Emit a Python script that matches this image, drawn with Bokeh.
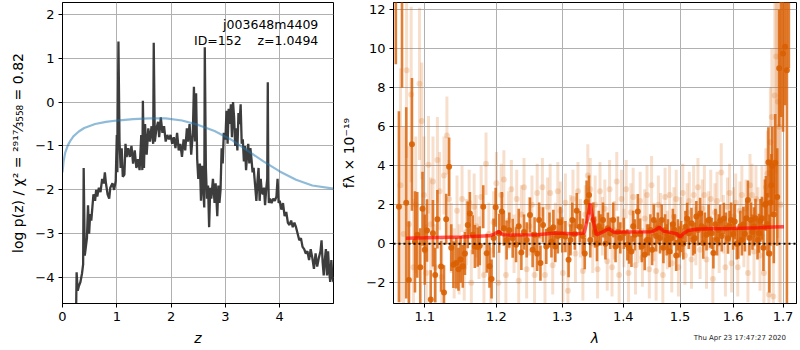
import numpy as np
from bokeh.plotting import figure
from bokeh.layouts import row, column
from bokeh.models import Range1d, FixedTicker, CustomJSTickFormatter, Label, Div
from bokeh.embed import file_html
from bokeh.resources import INLINE

FONT = "DejaVu Sans"

# ---------------- left panel: p(z) ----------------
pz_z = [0.25, 0.26, 0.28, 0.30, 0.33, 0.36, 0.38, 0.39, 0.41, 0.43, 0.45, 0.47, 0.49, 0.51, 0.53, 0.55,
        0.57, 0.60, 0.62, 0.64, 0.67, 0.70, 0.73, 0.76, 0.78, 0.80, 0.83, 0.86, 0.88, 0.92, 0.95, 0.98,
        1.00, 1.01, 1.03, 1.05, 1.07, 1.09, 1.11, 1.14, 1.16, 1.18, 1.21, 1.24, 1.27, 1.30, 1.33, 1.36,
        1.39, 1.42, 1.45, 1.47, 1.48, 1.50, 1.52, 1.55, 1.58, 1.61, 1.64, 1.67, 1.68, 1.70, 1.73, 1.76,
        1.78, 1.81, 1.84, 1.87, 1.90, 1.93, 1.96, 1.99, 2.02, 2.05, 2.08, 2.11, 2.14, 2.17, 2.20, 2.23,
        2.26, 2.29, 2.31, 2.34, 2.37, 2.40, 2.42, 2.44, 2.46, 2.48, 2.50, 2.53, 2.55, 2.57, 2.59, 2.61,
        2.62, 2.64, 2.66, 2.68, 2.70, 2.72, 2.74, 2.77, 2.80, 2.82, 2.85, 2.87, 2.89, 2.91, 2.93, 2.95,
        2.97, 3.00, 3.02, 3.04, 3.06, 3.08, 3.10, 3.12, 3.14, 3.16, 3.18, 3.20, 3.22, 3.24, 3.26, 3.28,
        3.30, 3.32, 3.34, 3.36, 3.38, 3.40, 3.42, 3.44, 3.46, 3.48, 3.50, 3.52, 3.55, 3.57, 3.59, 3.61,
        3.63, 3.65, 3.67, 3.69, 3.71, 3.73, 3.75, 3.77, 3.78, 3.79, 3.80, 3.82, 3.85, 3.88, 3.91, 3.94,
        3.96, 3.98, 4.00, 4.03, 4.06, 4.09, 4.12, 4.15, 4.18, 4.21, 4.24, 4.27, 4.30, 4.33, 4.36, 4.39,
        4.42, 4.45, 4.48, 4.51, 4.54, 4.57, 4.60, 4.63, 4.66, 4.69, 4.72, 4.75, 4.77, 4.79, 4.81, 4.83,
        4.85, 4.87, 4.89, 4.91, 4.93, 4.95, 4.97, 4.99]
pz_logp = [-4.8, -3.88, -4.3, -4.2, -4.1, -3.9, -3.7, -1.5, -3.5, -3.3, -3.1, -2.35, -3.0, -2.55, -2.7, -2.4,
           -2.1, -2.25, -2.0, -2.15, -1.95, -2.05, -1.75, -1.85, -1.6, -1.85, -2.1, -2.2, -1.95, -1.85, -2.0, -1.8,
           -0.75, -1.6, 1.38, -0.9, -1.5, -1.05, -1.7, -1.65, -0.95, -1.25, -1.05, -1.25, -1.0, -1.4, -1.1, -1.5,
           -1.3, -1.55, -0.75, -1.55, 0.03, -1.5, -0.5, -1.2, -0.6, -0.9, -0.55, -0.95, 1.35, -0.9, -0.6, -0.45,
           -0.8, -0.35, -0.7, -0.55, -0.9, -0.75, -0.85, -0.75, -0.95, -0.8, -1.05, -0.7, -1.1, -0.95, -1.25, -0.85,
           -1.1, -0.6, -0.9, -0.5, -1.2, -0.7, 0.35, -0.9, 0.2, -1.3, -1.75, -1.4, -2.25, -1.45, -1.95, -2.4,
           1.25, -1.5, -2.2, -1.9, -2.85, -1.95, -2.2, -1.75, -2.3, -1.85, -2.6, -1.9, -2.3, -2.0, -1.05, -1.4,
           -0.7, -0.85, -0.2, -0.95, -0.15, -0.5, -0.05, -0.8, 0.0, -0.35, -1.0, -0.6, -1.1, -0.25, -0.5, -0.05,
           -0.95, -0.85, -1.35, -1.0, -1.55, -1.2, -0.95, -1.4, -1.05, -1.3, -1.6, -1.5, -1.95, -2.25, -1.8, -1.5,
           -2.25, -1.75, -2.05, -2.1, -1.95, -2.35, -2.0, -1.75, 0.45, -1.8, -2.3, -2.2, -2.3, -2.2, -2.25, -2.15,
           -1.75, -2.3, -2.25, -2.45, -2.3, -2.6, -2.5, -2.75, -2.8, -2.7, -2.85, -2.75, -2.85, -3.0, -3.15, -3.1,
           -3.3, -3.35, -3.45, -3.4, -3.6, -3.35, -3.55, -3.8, -3.45, -3.75, -3.55, -3.4, -3.15, -3.65, -3.95, -3.6,
           -3.35, -3.95, -3.4, -3.85, -4.1, -3.6, -4.0, -4.1]

prior_z = [0.0, 0.02, 0.05, 0.1, 0.15, 0.2, 0.3, 0.4, 0.6, 0.8, 1.0, 1.3, 1.6, 1.9, 2.2, 2.5, 2.8,
           3.1, 3.4, 3.7, 4.0, 4.3, 4.6, 4.99]
prior_logp = [-1.6, -1.35, -1.15, -0.98, -0.87, -0.78, -0.67, -0.59, -0.5, -0.45, -0.42, -0.39, -0.37,
              -0.37, -0.42, -0.52, -0.66, -0.85, -1.1, -1.35, -1.58, -1.77, -1.9, -1.97]

z_ticks = [0, 1, 2, 3, 4]
logp_ticks = [-4, -3, -2, -1, 0, 1, 2]

# ---------------- right panel: spectrum ----------------
dark_lam = [1.062, 1.066, 1.070, 1.0755, 1.079, 1.083, 1.087, 1.090, 1.094, 1.097, 1.100, 1.103, 1.108, 1.111,
            1.114, 1.117, 1.122, 1.126, 1.129, 1.133, 1.136, 1.139, 1.143, 1.146, 1.149, 1.152, 1.155, 1.159,
            1.162, 1.166, 1.169, 1.173, 1.176, 1.181, 1.186, 1.190, 1.193, 1.196, 1.199, 1.204, 1.208, 1.211,
            1.215, 1.219, 1.224, 1.229, 1.233, 1.237, 1.241, 1.245, 1.250, 1.254, 1.257, 1.261, 1.264, 1.266,
            1.270, 1.275, 1.280, 1.283, 1.286, 1.289, 1.293, 1.297, 1.300, 1.305, 1.310, 1.313, 1.316, 1.320,
            1.323, 1.328, 1.333, 1.336, 1.339, 1.343, 1.345, 1.350, 1.353, 1.356, 1.359, 1.362, 1.366, 1.370,
            1.374, 1.378, 1.383, 1.387, 1.391, 1.395, 1.401, 1.407, 1.410, 1.414, 1.417, 1.420, 1.425, 1.429,
            1.432, 1.437, 1.441, 1.444, 1.447, 1.450, 1.453, 1.457, 1.460, 1.464, 1.467, 1.470, 1.473, 1.476,
            1.478, 1.481, 1.484, 1.487, 1.490, 1.493, 1.496, 1.499, 1.502, 1.506, 1.510, 1.513, 1.516, 1.521,
            1.524, 1.527, 1.530, 1.533, 1.537, 1.540, 1.543, 1.546, 1.549, 1.553, 1.556, 1.559, 1.562, 1.566,
            1.569, 1.572, 1.575, 1.578, 1.582, 1.586, 1.590, 1.593, 1.596, 1.600, 1.603, 1.607, 1.610, 1.614,
            1.617, 1.620, 1.623, 1.626, 1.629, 1.632, 1.635, 1.638, 1.641, 1.644, 1.648, 1.651, 1.654, 1.657,
            1.660, 1.663, 1.665, 1.668, 1.670, 1.672, 1.674, 1.676, 1.678, 1.681, 1.684, 1.688, 1.692, 1.696,
            1.700, 1.704, 1.708, 1.712]
dark_flux = [17.0, 1.9, 15.0, 2.1, -1.85, 5.1, 0.1, 0.46, -1.2, 1.8, -0.3, 0.68, -2.86, 0.54,
             -1.6, 1.26, -1.16, -2.5, 1.26, 3.95, -0.2, -1.07, -0.99, -1.3, -0.8, -1.15, -0.5, 0.97,
             1.56, 0.46, -0.14, -0.17, -0.1, 1.9, -0.48, -1.15, -1.8, 0.3, 1.87, 0.54, 1.65, 0.8,
             0.2, 0.7, 0.29, -0.05, 0.9, -0.44, 0.6, 0.2, 1.48, -0.3, 0.46, -0.5, 1.22, -0.99,
             0.97, -0.14, 0.71, 0.1, 0.85, -0.14, 0.4, 1.1, 0.46, 0.37, -0.82, 0.2, 1.22, 0.5,
             1.70, 0.88, 0.4, -0.5, 2.14, 2.5, 0.2, 1.22, 0.6, 0.0, 0.9, 0.71, 1.22, 0.0,
             0.8, 0.54, 1.22, -0.14, 0.6, 0.3, 0.54, -0.05, -0.22, -0.39, 0.9, 0.46, 1.65, 0.5,
             -0.14, -0.56, 0.2, 0.2, 0.71, -0.3, 1.22, 0.4, 0.8, 0.3, 1.22, -0.2, 0.71, 0.2,
             0.46, -0.4, 0.29, 1.0, 0.71, -0.6, 0.46, 0.1, 0.37, 0.0, 0.88, 1.3, 0.54, 1.05,
             0.2, 0.29, 1.4, 0.71, 1.56, 0.9, 0.03, 0.8, 0.46, 1.22, 0.6, 0.54, -0.47, 1.0,
             0.2, 0.71, 1.2, 0.4, 1.3, 0.8, 0.29, 0.9, 1.22, 0.5, 1.14, 0.0, 0.03, 0.9,
             0.2, 1.0, 0.5, 1.31, 2.25, 0.3, 1.22, 0.6, 0.88, 1.31, 0.2, 0.54, 1.2, 1.31,
             -0.2, 2.0, 2.07, 1.0, 4.18, -0.5, 2.1, 3.0, 4.0, 1.5, 4.15, 2.4, 9.0, 12.5,
             9.75, 10.1, 8.9, 15.0]
dark_err = [7.8, 4.9, 7.0, 4.9, 3.0, 3.4, 2.6, 2.2, 2.0, 1.9, 1.8, 1.6, 1.5, 1.7,
            1.4, 1.5, 1.3, 1.4, 1.3, 1.5, 1.2, 1.2, 1.3, 1.1, 1.2, 1.1, 1.1, 1.2,
            1.1, 1.0, 1.1, 1.0, 1.0, 1.1, 1.0, 1.1, 1.0, 1.0, 1.0, 1.0, 1.0, 0.9,
            1.0, 0.9, 1.0, 0.9, 0.9, 0.9, 0.9, 0.9, 0.9, 0.9, 0.9, 0.9, 0.9, 0.9,
            0.9, 0.9, 0.9, 0.8, 0.9, 0.8, 0.9, 0.8, 0.9, 0.8, 0.9, 0.8, 0.9, 0.8,
            0.9, 0.8, 0.9, 0.8, 1.1, 1.0, 0.9, 0.9, 0.8, 0.9, 0.8, 0.8, 0.9, 0.8,
            0.8, 0.8, 0.9, 0.8, 0.8, 0.8, 0.8, 0.8, 0.8, 0.8, 0.8, 0.8, 0.9, 0.8,
            0.8, 0.8, 0.8, 0.8, 0.8, 0.8, 0.8, 0.8, 0.8, 0.8, 0.8, 0.8, 0.8, 0.8,
            0.8, 0.8, 0.8, 0.8, 0.8, 0.8, 0.8, 0.8, 0.8, 0.8, 0.8, 0.8, 0.8, 0.8,
            0.8, 0.8, 0.8, 0.8, 0.8, 0.8, 0.8, 0.8, 0.8, 0.8, 0.8, 0.8, 0.8, 0.8,
            0.8, 0.8, 0.8, 0.8, 0.8, 0.8, 0.8, 0.8, 0.9, 0.8, 0.9, 0.8, 0.8, 0.8,
            0.8, 0.9, 0.9, 0.9, 1.0, 0.9, 0.9, 0.9, 1.0, 1.0, 1.0, 1.0, 1.1, 1.1,
            1.2, 1.3, 1.4, 1.6, 1.8, 2.0, 2.2, 1.6, 2.0, 2.5, 2.5, 2.5, 3.0, 6.0,
            4.0, 3.0, 14.0, 6.0]

light_lam = [1.068, 1.072, 1.076, 1.079, 1.082, 1.085, 1.088, 1.093, 1.096, 1.099, 1.102, 1.105, 1.108, 1.111,
             1.114, 1.117, 1.120, 1.123, 1.126, 1.130, 1.133, 1.136, 1.140, 1.144, 1.147, 1.151, 1.154, 1.157,
             1.161, 1.164, 1.168, 1.171, 1.175, 1.178, 1.182, 1.185, 1.189, 1.192, 1.196, 1.200, 1.203, 1.207,
             1.211, 1.214, 1.218, 1.222, 1.226, 1.230, 1.233, 1.237, 1.241, 1.245, 1.249, 1.253, 1.257, 1.261,
             1.265, 1.269, 1.273, 1.277, 1.281, 1.285, 1.289, 1.293, 1.297, 1.301, 1.305, 1.309, 1.313, 1.317,
             1.321, 1.325, 1.329, 1.333, 1.337, 1.341, 1.345, 1.349, 1.353, 1.357, 1.361, 1.365, 1.369, 1.373,
             1.377, 1.381, 1.385, 1.389, 1.393, 1.397, 1.401, 1.405, 1.409, 1.413, 1.417, 1.421, 1.425, 1.429,
             1.433, 1.437, 1.441, 1.445, 1.449, 1.453, 1.457, 1.461, 1.465, 1.469, 1.473, 1.477, 1.481, 1.485,
             1.489, 1.493, 1.497, 1.501, 1.505, 1.509, 1.513, 1.517, 1.521, 1.525, 1.529, 1.533, 1.537, 1.541,
             1.545, 1.549, 1.553, 1.557, 1.561, 1.565, 1.569, 1.573, 1.577, 1.581, 1.585, 1.589, 1.593, 1.597,
             1.601, 1.605, 1.609, 1.613, 1.617, 1.621, 1.625, 1.629, 1.633, 1.637, 1.641, 1.645, 1.649, 1.653,
             1.657, 1.661, 1.665, 1.668, 1.671, 1.674, 1.677, 1.680, 1.683, 1.686, 1.689, 1.692, 1.695]
light_flux = [3.0, 0.5, 8.9, 1.0, 7.65, -1.2, 2.0, 8.2, 6.3, 2.5, -1.5, 4.05, 1.0, 3.2,
              -1.2, 4.3, 2.7, -1.7, 3.5, 5.55, 2.3, 0.3, -1.0, 1.7, -0.8, 2.3, -1.2, 0.6,
              2.1, -2.0, 1.9, 0.9, -0.2, 2.4, -1.6, 4.1, 0.5, -1.8, 1.1, 3.1, -2.0, 2.5,
              3.3, -1.6, 1.2, 2.8, 0.0, 2.3, -1.9, 1.5, 2.9, -1.3, 0.9, 2.0, -1.6, 2.6,
              0.4, 2.9, -1.6, 1.9, 2.6, -1.1, 0.6, 2.7, 1.7, -1.5, 2.1, -2.4, 1.0, 2.3,
              -0.5, 2.7, 0.8, -1.4, 1.5, 3.5, 2.8, 0.0, 2.0, -1.3, 2.7, 0.9, 1.8, -0.9,
              2.8, -1.2, 0.7, 3.2, -1.6, 2.3, 0.3, 2.8, -1.5, 1.6, 2.4, -1.1, 0.5, 2.2,
              -0.7, 1.3, 2.5, -1.3, 3.0, 0.6, -1.4, 2.0, 1.1, -1.6, 2.4, 0.2, 2.5, -1.0,
              1.4, 2.3, -1.2, 0.9, 2.6, -0.6, 1.6, 2.2, -0.8, 2.5, 0.4, 2.9, -0.3, 1.8,
              2.5, -0.8, 1.2, 2.3, -1.8, 1.6, 2.2, 0.0, 3.65, 1.0, -1.2, 1.9, 2.6, -1.0,
              1.4, 2.1, -1.2, 1.7, 2.5, 0.3, 1.8, -1.5, 3.0, 2.5, -0.4, 2.3, 1.2, -0.6,
              2.2, -1.5, 2.9, 3.6, -2.6, 5.2, 6.5, -2.7, 7.6, 9.6, 7.3, 6.0, 2.0]
light_err = [6.0, 5.5, 4.5, 4.0, 4.5, 3.5, 3.5, 3.9, 3.0, 3.0, 2.5, 2.5, 2.4, 2.3,
             2.2, 2.2, 2.0, 2.0, 2.0, 2.0, 2.0, 1.8, 1.8, 1.8, 1.8, 1.7, 1.7, 1.7,
             1.7, 1.7, 1.7, 1.6, 1.6, 1.6, 1.6, 1.6, 1.6, 1.6, 1.6, 1.6, 1.6, 1.6,
             1.5, 1.5, 1.5, 1.5, 1.5, 1.5, 1.5, 1.5, 1.5, 1.5, 1.5, 1.5, 1.5, 1.5,
             1.5, 1.5, 1.5, 1.5, 1.5, 1.5, 1.5, 1.5, 1.5, 1.5, 1.5, 1.5, 1.5, 1.5,
             1.5, 1.5, 1.5, 1.5, 1.5, 1.6, 1.6, 1.5, 1.5, 1.5, 1.5, 1.5, 1.5, 1.5,
             1.5, 1.5, 1.5, 1.5, 1.5, 1.5, 1.5, 1.5, 1.5, 1.5, 1.5, 1.5, 1.5, 1.5,
             1.5, 1.5, 1.5, 1.5, 1.5, 1.5, 1.5, 1.5, 1.5, 1.5, 1.5, 1.5, 1.5, 1.5,
             1.5, 1.5, 1.5, 1.5, 1.5, 1.5, 1.5, 1.5, 1.5, 1.5, 1.5, 1.5, 1.5, 1.5,
             1.5, 1.5, 1.5, 1.5, 1.5, 1.5, 1.5, 1.5, 1.5, 1.5, 1.5, 1.5, 1.5, 1.5,
             1.5, 1.5, 1.5, 1.5, 1.5, 1.5, 1.5, 1.5, 1.6, 1.6, 1.6, 1.7, 1.7, 1.8,
             1.8, 2.0, 2.0, 2.2, 2.3, 2.8, 3.5, 4.0, 5.0, 6.0, 7.0, 9.0, 12.0]

model_lam = [1.075, 1.10, 1.15, 1.19, 1.197, 1.203, 1.210, 1.22, 1.26, 1.29, 1.30, 1.32, 1.335, 1.340,
             1.345, 1.349, 1.355, 1.365, 1.376, 1.385, 1.40, 1.45, 1.458, 1.463, 1.470, 1.48, 1.495,
             1.500, 1.505, 1.515, 1.53, 1.55, 1.60, 1.65, 1.68, 1.702]
model_flux = [0.29, 0.31, 0.35, 0.41, 0.5, 0.63, 0.46, 0.45, 0.47, 0.55, 0.54, 0.5, 0.55, 1.2,
              2.07, 1.3, 0.46, 0.6, 0.77, 0.58, 0.6, 0.62, 0.75, 0.85, 0.65, 0.6, 0.5,
              0.34, 0.5, 0.68, 0.75, 0.77, 0.78, 0.82, 0.86, 0.88]

lam_ticks = [1.1, 1.2, 1.3, 1.4, 1.5, 1.6, 1.7]
flux_ticks = [-2, 0, 2, 4, 6, 8, 10, 12]

ORANGE = "#d95f02"
NB = "\u00a0"
TIMESTAMP = "Thu Apr 23 17:47:27 2020"

minus_fmt = CustomJSTickFormatter(code="return tick < 0 ? '\\u2212' + Math.abs(tick) : String(tick);")


def style(p, xticks, yticks, xfmt=None):
    p.outline_line_color = "black"
    p.outline_line_width = 1
    p.outline_line_alpha = 1.0
    p.background_fill_color = "white"
    p.border_fill_color = "white"
    p.xaxis.ticker = FixedTicker(ticks=xticks)
    p.yaxis.ticker = FixedTicker(ticks=yticks)
    p.xgrid.ticker = FixedTicker(ticks=xticks)
    p.ygrid.ticker = FixedTicker(ticks=yticks)
    for g in (p.xgrid, p.ygrid):
        g.grid_line_color = "#b0b0b0"
        g.grid_line_width = 1
        g.grid_line_alpha = 1.0
    for ax in (p.xaxis, p.yaxis):
        ax.axis_line_color = "black"
        ax.major_tick_line_color = "black"
        ax.major_tick_out = 4
        ax.major_tick_in = 0
        ax.minor_tick_line_color = None
        ax.major_label_text_font = FONT
        ax.major_label_text_font_size = "13px"
        ax.major_label_text_color = "black"
        ax.axis_label_text_font = FONT
        ax.axis_label_text_font_size = "14px"
        ax.axis_label_text_color = "black"
        ax.major_label_standoff = 4
        ax.axis_label_standoff = 6
    p.yaxis.formatter = minus_fmt
    if xfmt is not None:
        p.xaxis.formatter = xfmt


# ---- left figure ----
p1 = figure(width=338, height=348, output_backend="svg", toolbar_location=None,
            x_range=Range1d(0, 4.99), y_range=Range1d(-4.59, 2.27),
            min_border_left=62, min_border_right=5, min_border_top=2, min_border_bottom=44)
style(p1, z_ticks, logp_ticks)
p1.xaxis.axis_label = "z"
p1.xaxis.axis_label_text_font_style = "italic"
p1.yaxis.axis_label = "log p(z) / \u03c7\u00b2 = \u00b2\u2079\u00b9\u2077\u2044\u2083\u2085\u2085\u2088 = 0.82"
p1.yaxis.axis_label_text_font_style = "normal"
p1.yaxis.axis_label_text_font_size = "14px"

p1.line(pz_z, pz_logp, line_color="#333333", line_alpha=0.95, line_width=2.3)
p1.line(prior_z, prior_logp, line_color="#1f77b4", line_alpha=0.5, line_width=2.2)

p1.add_layout(Label(x=4.71, y=1.77, text="j003648m4409", text_align="right", text_baseline="alphabetic",
                    text_font=FONT, text_font_size="12.5px", text_color="black"))
p1.add_layout(Label(x=4.71, y=1.41, text="ID=152" + NB * 4 + "z=1.0494", text_align="right",
                    text_baseline="alphabetic", text_font=FONT, text_font_size="12.5px", text_color="black"))

# ---- right figure ----
p2 = figure(width=460, height=348, output_backend="svg", toolbar_location=None,
            x_axis_type="log", x_range=Range1d(1.059, 1.728), y_range=Range1d(-3.06, 12.37),
            min_border_left=53, min_border_right=2, min_border_top=2, min_border_bottom=44)
style(p2, lam_ticks, flux_ticks, xfmt=CustomJSTickFormatter(code="return tick.toFixed(1);"))
p2.xaxis.axis_label = "\u03bb"
p2.xaxis.axis_label_text_font_style = "italic"
p2.yaxis.axis_label = "f\u03bb \u00d7 10\u207b\u00b9\u2079"
p2.yaxis.axis_label_text_font_style = "normal"
p2.yaxis.axis_label_text_font_size = "14px"

ll = np.array(light_lam); lf = np.array(light_flux); le = np.array(light_err)
dl = np.array(dark_lam); df = np.array(dark_flux); de = np.array(dark_err)

p2.segment(ll, lf - le, ll, lf + le, line_color=ORANGE, line_alpha=0.2, line_width=3)
p2.scatter(ll, lf, size=6, fill_color=ORANGE, fill_alpha=0.2, line_color=None)
p2.segment(dl, df - de, dl, df + de, line_color=ORANGE, line_alpha=0.8, line_width=2.6)
p2.scatter(dl, df, size=6, fill_color=ORANGE, fill_alpha=0.9, line_color=None)
p2.line(model_lam, model_flux, line_color="red", line_alpha=0.65, line_width=3.5)
p2.line([1.059, 1.728], [0, 0], line_color="black", line_width=2, line_dash="2 3")

stamp = Div(text=TIMESTAMP, width=448, height=10, margin=(-15, 0, 0, 0),
            styles={"text-align": "right", "font-size": "7px", "font-family": FONT,
                    "color": "#222222", "line-height": "10px", "white-space": "nowrap"})

layout = row(p1, column(p2, stamp, spacing=0))
open("out.html", "w").write(file_html(layout, INLINE))
